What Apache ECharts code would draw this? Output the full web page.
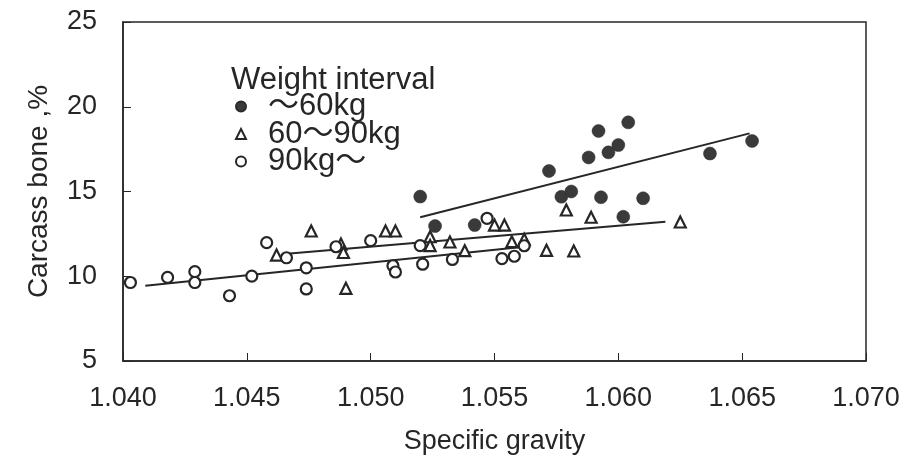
<!DOCTYPE html>
<html>
<head>
<meta charset="utf-8">
<script src="https://cdn.jsdelivr.net/npm/echarts@6/dist/echarts.min.js"></script>
<style>
  html, body { margin: 0; padding: 0; background: #fff; }
  #chart { width: 909px; height: 466px; }
</style>
</head>
<body>
<div id="chart"></div>
<script>
// Carcass bone (%) against specific gravity, by live-weight class
const seriesNames = ['～60kg', '60～90kg', '90kg～'];

// [specific gravity, carcass bone %]
const under60 = [
  [1.0520, 14.70], [1.0526, 12.96], [1.0542, 13.02], [1.0572, 16.21],
  [1.0577, 14.69], [1.0581, 15.00], [1.0588, 17.01], [1.0592, 18.57],
  [1.0596, 17.31], [1.0600, 17.74], [1.0593, 14.66], [1.0602, 13.51],
  [1.0604, 19.08], [1.0610, 14.60], [1.0637, 17.24], [1.0654, 17.98]
];

const from60to90 = [
  [1.0462, 11.25], [1.0476, 12.67], [1.0488, 11.90], [1.0489, 11.40],
  [1.0490, 9.29], [1.0506, 12.67], [1.0510, 12.67], [1.0524, 12.33],
  [1.0524, 11.81], [1.0532, 12.02], [1.0538, 11.51], [1.0550, 13.02],
  [1.0554, 13.02], [1.0557, 12.04], [1.0562, 12.18], [1.0571, 11.53],
  [1.0579, 13.91], [1.0582, 11.49], [1.0589, 13.48], [1.0625, 13.20]
];

const over90 = [
  [1.0403, 9.63], [1.0418, 9.93], [1.0429, 10.27], [1.0429, 9.63],
  [1.0443, 8.85], [1.0452, 10.01], [1.0458, 11.98], [1.0466, 11.09],
  [1.0474, 10.50], [1.0474, 9.25], [1.0486, 11.74], [1.0500, 12.10],
  [1.0509, 10.62], [1.0510, 10.25], [1.0520, 11.81], [1.0521, 10.71],
  [1.0533, 10.99], [1.0547, 13.42], [1.0553, 11.04], [1.0558, 11.18],
  [1.0562, 11.80]
];

// Regression line end points for each class
const fitUnder60 = [[1.0520, 13.48], [1.0653, 18.43]];
const fit60to90 = [[1.0465, 11.31], [1.0619, 13.22]];
const fitOver90 = [[1.0409, 9.44], [1.0562, 11.74]];

// Axis ranges
const xMin = 1.040, xMax = 1.070, xStep = 0.005;
const yMin = 5, yMax = 25, yStep = 5;

const ink = '#262626';
const fontFamily = '"Liberation Sans", Arial, "Noto Sans CJK JP", sans-serif';

const chart = echarts.init(document.getElementById('chart'), null, { renderer: 'canvas' });

function fitLine(data) {
  return {
    type: 'line',
    data: data,
    symbol: 'none',
    silent: true,
    z: 2,
    lineStyle: { color: ink, width: 2 },
    legendHoverLink: false
  };
}

chart.setOption({
  animation: false,
  backgroundColor: '#ffffff',
  textStyle: { fontFamily: fontFamily, color: ink },
  title: {
    text: 'Weight interval',
    left: 231,
    top: 65,
    padding: 0,
    textStyle: { fontFamily: fontFamily, fontSize: 31, fontWeight: 'normal', color: ink }
  },
  legend: {
    data: seriesNames,
    orient: 'vertical',
    left: 235,
    top: 91,
    padding: 0,
    itemGap: -3.5,
    itemWidth: 10,
    itemHeight: 10,
    selectedMode: false,
    textStyle: {
      fontFamily: fontFamily,
      fontSize: 31,
      color: ink,
      lineHeight: 26,
      padding: [0, 0, 0, 17]
    }
  },
  grid: {
    left: 123,
    right: 43,
    top: 22,
    bottom: 105,
    show: true,
    borderColor: ink,
    borderWidth: 1.5,
    backgroundColor: 'transparent'
  },
  xAxis: {
    type: 'value',
    min: xMin,
    max: xMax,
    interval: xStep,
    name: 'Specific gravity',
    nameLocation: 'middle',
    nameGap: 67,
    nameTextStyle: { fontFamily: fontFamily, fontSize: 27, color: ink },
    axisLine: { show: true, lineStyle: { color: ink, width: 1.5 } },
    axisTick: { show: true, inside: true, length: 8, lineStyle: { color: ink, width: 1 } },
    splitLine: { show: false },
    axisLabel: {
      margin: 24,
      fontFamily: fontFamily,
      fontSize: 27,
      color: ink,
      formatter: v => v.toFixed(3)
    }
  },
  yAxis: {
    type: 'value',
    min: yMin,
    max: yMax,
    interval: yStep,
    name: 'Carcass bone ,%',
    nameLocation: 'middle',
    nameGap: 70,
    nameRotate: 90,
    nameTextStyle: { fontFamily: fontFamily, fontSize: 28, color: ink },
    axisLine: { show: true, lineStyle: { color: ink, width: 1.5 } },
    axisTick: { show: true, inside: true, length: 8, lineStyle: { color: ink, width: 1 } },
    splitLine: { show: false },
    axisLabel: { margin: 26, fontFamily: fontFamily, fontSize: 27, color: ink }
  },
  series: [
    fitLine(fitUnder60),
    fitLine(fit60to90),
    fitLine(fitOver90),
    {
      name: seriesNames[0],
      type: 'scatter',
      data: under60,
      symbol: 'circle',
      symbolSize: 13,
      z: 3,
      itemStyle: { color: '#3a3a3a', borderColor: '#2a2a2a', borderWidth: 0.5, opacity: 1 }
    },
    {
      name: seriesNames[1],
      type: 'scatter',
      data: from60to90,
      symbol: 'triangle',
      symbolSize: 11,
      z: 4,
      itemStyle: { color: '#ffffff', borderColor: ink, borderWidth: 2.2, opacity: 1 }
    },
    {
      name: seriesNames[2],
      type: 'scatter',
      data: over90,
      symbol: 'circle',
      symbolSize: 11,
      z: 4,
      itemStyle: { color: '#ffffff', borderColor: ink, borderWidth: 2.2, opacity: 1 }
    }
  ]
});
</script>
</body>
</html>
